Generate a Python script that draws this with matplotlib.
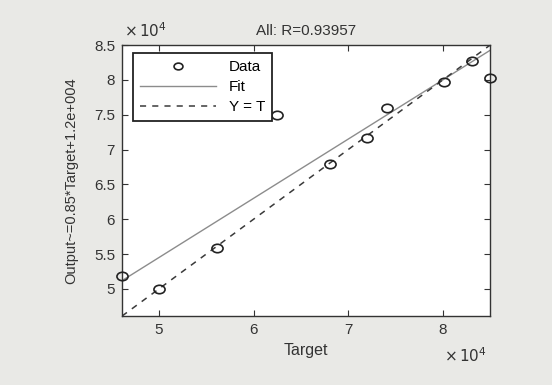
import matplotlib.pyplot as plt
import numpy as np
from matplotlib.path import Path
from matplotlib.transforms import Affine2D
from matplotlib.ticker import FuncFormatter

plt.rcParams['font.family'] = ['Liberation Sans', 'DejaVu Sans']

# values
target = np.array([46100, 50000, 56100, 62500, 68100, 72000, 74100, 80100, 83100, 85000])
output = np.array([51900, 50000, 55900, 75000, 67900, 71700, 76000, 79700, 82700, 80300])
fit_slope, fit_icpt = 0.85, 1.2e4
r_value = 0.93957
x_ticks = [50000, 60000, 70000, 80000]
y_ticks = [50000, 55000, 60000, 65000, 70000, 75000, 80000, 85000]

lo = min(target.min(), output.min())
hi = max(target.max(), output.max())

# scanned circles come out a bit wide
oval = Path.unit_circle().transformed(Affine2D().scale(1.25, 0.95))

fig = plt.figure(figsize=(5.52, 3.85), dpi=100)
fig.patch.set_facecolor('#e9e9e6')
ax = fig.add_axes([0.221, 0.179, 0.667, 0.704])
ax.set_facecolor('white')

xs = np.array([lo, hi])
ax.plot(target, output, linestyle='none', marker=oval, mfc='none', mec='#222222', ms=8, mew=1.2,
        label='Data', clip_on=False, zorder=3)
ax.plot(xs, fit_slope * xs + fit_icpt, '-', color='#8c8c8c', lw=1.0, label='Fit')
ax.plot(xs, xs, '--', color='#3a3a3a', lw=1.1, dashes=(4, 4), label='Y = T')

ax.set_xlim(lo, hi)
ax.set_ylim(lo, hi)
ax.set_xticks(x_ticks)
ax.set_yticks(y_ticks)
fmt = FuncFormatter(lambda v, p: f'{v / 1e4:g}')
ax.xaxis.set_major_formatter(fmt)
ax.yaxis.set_major_formatter(fmt)
ax.tick_params(direction='in', top=True, right=True, length=4, labelsize=11, colors='#333333', pad=5)
for s in ax.spines.values():
    s.set_color('#333333')
    s.set_linewidth(1.0)

ax.set_xlabel('Target', fontsize=11.5, color='#333333', labelpad=4)
ax.set_ylabel('Output~=0.85*Target+1.2e+004', fontsize=10.5, color='#333333', labelpad=11)
ax.set_title(f'All: R={r_value}', fontsize=11, color='#333333', pad=7)
ax.text(0.005, 1.02, r'$\times\,10^4$', transform=ax.transAxes, fontsize=11, color='#333333', va='bottom', ha='left')
ax.text(0.875, -0.11, r'$\times\,10^4$', transform=ax.transAxes, fontsize=11, color='#333333', va='top', ha='left')

leg = ax.legend(loc='upper left', bbox_to_anchor=(0.03, 0.97), fontsize=11, frameon=True, fancybox=False,
                borderpad=0.45, handlelength=5.0, handletextpad=0.8, labelspacing=0.4, borderaxespad=0,
                markerscale=0.8)
leg.get_frame().set_edgecolor('#222222')
leg.get_frame().set_linewidth(1.3)
leg.get_frame().set_alpha(1)
leg.set_zorder(5)

plt.savefig('out.png', dpi=100, facecolor=fig.get_facecolor())
